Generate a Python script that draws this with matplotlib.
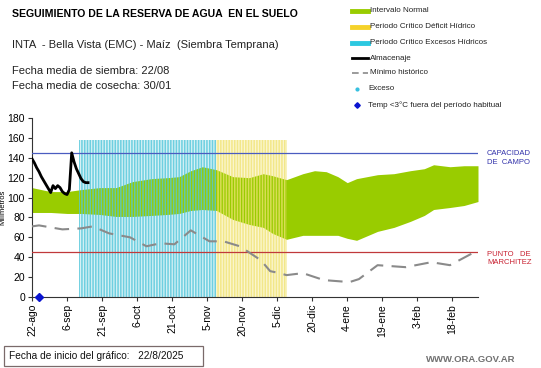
import numpy as np
import matplotlib
matplotlib.use("Agg")
import matplotlib.pyplot as plt
from matplotlib.lines import Line2D
from matplotlib.patches import Rectangle

plt.rcParams['font.family'] = ['Liberation Sans', 'DejaVu Sans']
plt.rcParams['hatch.linewidth'] = 1.1

# ---- data (days since 22-ago) ----
tick_days = [0, 15, 30, 45, 60, 75, 90, 105, 120, 135, 150, 165, 180]
tick_labels = ['22-ago', '6-sep', '21-sep', '6-oct', '21-oct', '5-nov', '20-nov',
               '5-dic', '20-dic', '4-ene', '19-ene', '3-feb', '18-feb']

band_days = [0, 4, 8, 15, 21, 29, 36, 43, 51, 58, 63, 68, 73, 79, 86, 93, 99, 103,
             109, 116, 121, 126, 131, 135, 139, 148, 155, 162, 168, 172, 179, 185, 191]
band_upper = [110, 108, 106, 106, 108, 110, 110, 116, 119, 120, 121, 127, 131, 128, 121,
              120, 124, 122, 118, 124, 127, 126, 121, 115, 119, 123, 124, 127, 129, 133,
              131, 132, 132]
band_lower = [85, 85, 85, 84, 84, 83, 81, 81, 82, 83, 84, 87, 88, 87, 78, 73, 70, 64,
              58, 62, 62, 62, 62, 59, 57, 66, 70, 76, 82, 88, 90, 92, 96]

min_days = [0, 3, 13, 21, 26, 33, 42, 49, 55, 61, 68, 76, 82, 89, 98, 102, 106, 109,
            116, 125, 136, 140, 148, 160, 171, 179, 191]
min_vals = [71, 72, 68, 69, 71, 64, 60, 51, 54, 53, 67, 56, 56, 51, 37, 26, 24, 22,
            24, 17, 15, 18, 32, 30, 35, 32, 47]

alm_days = list(range(0, 25))
alm_vals = [139, 135, 130, 126, 121, 117, 113, 109, 105, 112, 109, 112, 110, 106, 104,
            103, 108, 145, 136, 129, 124, 119, 116, 115, 115]

temp_days = [3]
temp_vals = [0]

capacidad = 145
marchitez = 45
exceso_period = (20, 79)
deficit_period = (79, 109)
period_top = 158
x_end = 191

# ---- figure ----
W, H = 541, 368
fig = plt.figure(figsize=(W / 100, H / 100), dpi=100)
ax = fig.add_axes([32 / W, 1 - 297 / H, (478 - 32) / W, (297 - 118) / H])

ax.fill_between(band_days, band_lower, band_upper, color='#99cc00', lw=0, zorder=1)

for (a, b), bg, col in [(exceso_period, '#d6f1f5', (0.33, 0.78, 0.86, 0.8)),
                        (deficit_period, '#fbf6cf', (0.94, 0.89, 0.45, 0.75))]:
    ax.add_patch(Rectangle((a, 0), b - a, period_top, facecolor=bg, lw=0, zorder=0.5))
    ax.add_patch(Rectangle((a, 0), b - a, period_top, fill=False, hatch='||||||',
                           edgecolor=col, lw=0, zorder=2))

ax.axhline(capacidad, color='#4a5cc0', lw=0.9, zorder=3)
ax.axhline(marchitez, color='#c0393b', lw=0.9, zorder=3)

ax.plot(min_days, min_vals, color='#8a8a8a', lw=1.5, dashes=(7, 4), zorder=4)
ax.plot(alm_days, alm_vals, color='black', lw=2.0, zorder=5)
ax.plot(temp_days, temp_vals, 'D', color='#0a14d0', ms=4, zorder=6, clip_on=False)

ax.set_xlim(0, x_end)
ax.set_ylim(0, 180)
ax.set_yticks(range(0, 181, 20))
ax.set_xticks(tick_days)
ax.set_xticklabels(tick_labels, rotation=90)
ax.tick_params(axis='both', labelsize=7.5, length=3, width=0.8, color='#333333', pad=2)
for s in ['top', 'right']:
    ax.spines[s].set_visible(False)
for s in ['left', 'bottom']:
    ax.spines[s].set_color('#333333')
    ax.spines[s].set_linewidth(0.8)
ax.set_ylabel('Milímetros', fontsize=5.5, labelpad=1)

ax.text(1.02, 145 / 180 - 0.03, 'CAPACIDAD\nDE  CAMPO', transform=ax.transAxes,
        color='#3232aa', fontsize=5.5, va='center', ha='left', linespacing=1.3)
ax.text(1.02, 45 / 180 - 0.035, 'PUNTO   DE\nMARCHITEZ', transform=ax.transAxes,
        color='#c82030', fontsize=5.5, va='center', ha='left', linespacing=1.3)

# ---- header texts ----
def fx(px):
    return px / W

def fy(py):
    return 1 - py / H

fig.text(fx(12), fy(14), 'SEGUIMIENTO DE LA RESERVA DE AGUA  EN EL SUELO',
         fontsize=7.6, fontweight='bold', va='center', ha='left')
fig.text(fx(12), fy(45), 'INTA  - Bella Vista (EMC) - Maíz  (Siembra Temprana)',
         fontsize=8, va='center', ha='left', color='#222222')
fig.text(fx(12), fy(71), 'Fecha media de siembra: 22/08', fontsize=8, va='center',
         ha='left', color='#222222')
fig.text(fx(12), fy(86), 'Fecha media de cosecha: 30/01', fontsize=8, va='center',
         ha='left', color='#222222')

# ---- legend ----
leg_fs = 5.8
items = [
    ('Intervalo Normal', 11, 'band', '#99cc00'),
    ('Periodo Crítico Déficit Hídrico', 27, 'band', '#f5d22a'),
    ('Periodo Crítico Excesos Hídricos', 43, 'band', '#2cc8e0'),
    ('Almacenaje', 58, 'line', 'black'),
    ('Mínimo histórico', 73, 'dash', '#8a8a8a'),
    ('Exceso', 89, 'dot', '#36c0e0'),
    ('Temp <3°C fuera del período habitual', 105, 'diamond', '#0a14d0'),
]
for label, py, kind, col in items:
    if kind == 'band':
        fig.add_artist(Line2D([fx(352), fx(368)], [fy(py), fy(py)], color=col, lw=3.5))
        tx = 370
    elif kind == 'line':
        fig.add_artist(Line2D([fx(352), fx(368)], [fy(py), fy(py)], color=col, lw=2))
        tx = 370
    elif kind == 'dash':
        fig.add_artist(Line2D([fx(352), fx(368)], [fy(py), fy(py)], color=col, lw=1.2,
                              dashes=(4, 2.5)))
        tx = 370
    elif kind == 'dot':
        fig.add_artist(Line2D([fx(357)], [fy(py)], color=col, marker='o', ms=2, lw=0))
        tx = 368
    else:
        fig.add_artist(Line2D([fx(357)], [fy(py)], color=col, marker='D', ms=2.8, lw=0))
        tx = 368
    fig.text(fx(tx), fy(py), label, fontsize=leg_fs, va='center', ha='left',
             color='#222222')

# ---- footer ----
fig.add_artist(Rectangle((fx(4), fy(366)), fx(203) - fx(4), fy(346) - fy(366),
                         transform=fig.transFigure, fill=False, ec='#7a6a6a', lw=0.9))
fig.text(fx(9), fy(356), 'Fecha de inicio del gráfico:   22/8/2025', fontsize=7.3,
         va='center', ha='left', color='#111111')
fig.text(fx(515), fy(359), 'WWW.ORA.GOV.AR', fontsize=6.8, fontweight='bold',
         va='center', ha='right', color='#707070')

fig.savefig('out.png', dpi=100)
